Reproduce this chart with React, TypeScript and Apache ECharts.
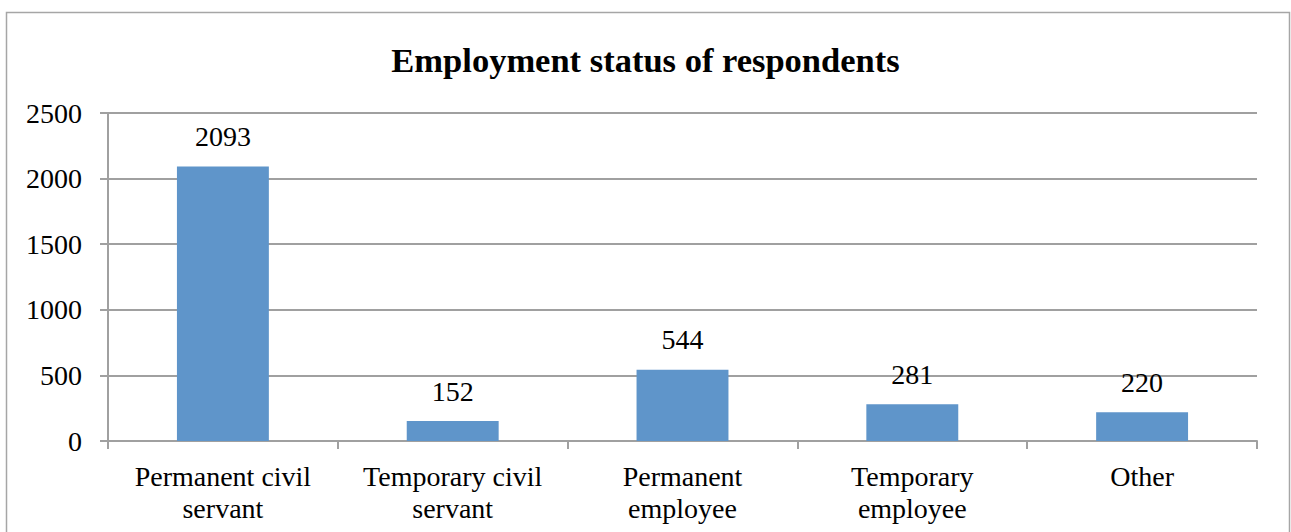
import React, { useEffect, useRef } from "react";
import * as echarts from "echarts";

const categories = [
  "Permanent civil\nservant",
  "Temporary civil\nservant",
  "Permanent\nemployee",
  "Temporary\nemployee",
  "Other",
];
const values = [2093, 152, 544, 281, 220];
const titleText = "Employment status of respondents";

const FONT = "Liberation Serif";

export default function App() {
  const ref = useRef<HTMLDivElement>(null);
  useEffect(() => {
    const chart = echarts.init(ref.current!, null, { renderer: "svg" });
    chart.setOption({
      animation: false,
      backgroundColor: "#ffffff",
      title: {
        text: titleText,
        left: "center",
        top: 37,
        textStyle: { fontFamily: FONT, fontSize: 34.5, fontWeight: "bold", color: "#000" },
      },
      graphic: [
        {
          type: "rect",
          shape: { x: 6.5, y: 12.5, width: 1283, height: 530 },
          style: { fill: "none", stroke: "#a6a6a6", lineWidth: 1.5 },
          silent: true,
        },
      ],
      grid: { left: 108, right: 34, top: 113, bottom: 91 },
      xAxis: {
        type: "category",
        data: categories,
        axisLine: { lineStyle: { color: "#a0a0a0", width: 2 } },
        axisTick: { show: true, length: 8, lineStyle: { color: "#a0a0a0", width: 2 } },
        axisLabel: {
          fontFamily: FONT,
          fontSize: 28,
          color: "#000",
          lineHeight: 32,
          margin: 19,
          interval: 0,
        },
      },
      yAxis: {
        type: "value",
        min: 0,
        max: 2500,
        interval: 500,
        axisLine: { show: true, lineStyle: { color: "#a0a0a0", width: 2 } },
        axisTick: { show: true, length: 8, lineStyle: { color: "#a0a0a0", width: 2 } },
        splitLine: { lineStyle: { color: "#a0a0a0", width: 2 } },
        axisLabel: {
          fontFamily: FONT,
          fontSize: 28,
          color: "#000",
          margin: 26,
          formatter: (v: number) => String(v),
        },
      },
      series: [
        {
          type: "bar",
          data: values,
          barWidth: "40%",
          itemStyle: { color: "#5f95ca" },
          label: {
            show: true,
            position: "top",
            distance: 16,
            fontFamily: FONT,
            fontSize: 28,
            color: "#000",
          },
        },
      ],
    });
    return () => chart.dispose();
  }, []);
  return (
    <div
      ref={ref}
      style={{ position: "absolute", left: 0, top: 0, width: 1291, height: 532 }}
    />
  );
}
